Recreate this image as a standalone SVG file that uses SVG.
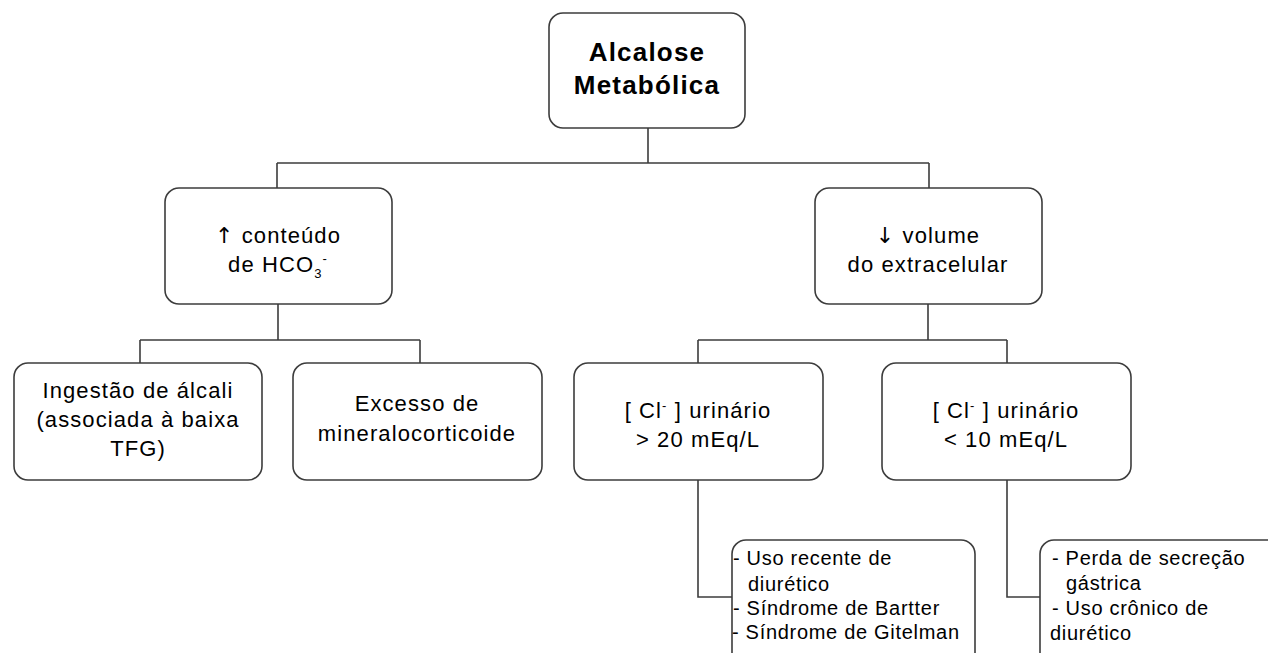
<svg xmlns="http://www.w3.org/2000/svg" width="1268" height="653" viewBox="0 0 1268 653">
<style>
.box{fill:#fff;stroke:#3c3c3c;stroke-width:1.6}
.con{fill:none;stroke:#3c3c3c;stroke-width:1.6}
.t{font-family:"Liberation Sans",Arial,"DejaVu Sans",sans-serif;font-size:22px;fill:#000;text-anchor:middle;letter-spacing:1.1px}
.s{font-family:"Liberation Sans",Arial,"DejaVu Sans",sans-serif;font-size:20px;fill:#000;letter-spacing:0.7px}
.title{font-family:"Liberation Sans",Arial,sans-serif;font-size:26px;font-weight:bold;fill:#000;text-anchor:middle;letter-spacing:1.2px}
.ar{font-family:"DejaVu Sans",sans-serif;fill:#000}
</style>
<rect width="1268" height="653" fill="#fff"/>
<g id="connectors">
<path class="con" d="M648,128 V163 M277,163 H929 M277,163 V188 M929,163 V188"/>
<path class="con" d="M278,304 V340 M140,340 H420 M140,340 V363 M420,340 V363"/>
<path class="con" d="M928,304 V340 M698,340 H1007 M698,340 V363 M1007,340 V363"/>
<path class="con" d="M698,480 V597 H732"/>
<path class="con" d="M1007,480 V597 H1040"/>
</g>
<g id="n1">
<rect class="box" x="549" y="13" width="196" height="115" rx="14"/>
<text class="title" x="647" y="61">Alcalose</text>
<text class="title" x="647" y="94">Metabólica</text>
</g>
<g id="n2">
<rect class="box" x="165" y="188" width="227" height="116" rx="14"/>
<text class="t" x="278" y="243"><tspan class="ar">↑</tspan> conteúdo</text>
<text class="t" x="278" y="272">de HCO<tspan font-size="13" dy="6">3</tspan><tspan font-size="13" dy="-15">-</tspan></text>
</g>
<g id="n3">
<rect class="box" x="815" y="188" width="227" height="116" rx="14"/>
<text class="t" x="928" y="243"><tspan class="ar">↓</tspan> volume</text>
<text class="t" x="928" y="272">do extracelular</text>
</g>
<g id="n4">
<rect class="box" x="14" y="363" width="248" height="117" rx="14"/>
<text class="t" x="138" y="398">Ingestão de álcali</text>
<text class="t" x="138" y="427">(associada à baixa</text>
<text class="t" x="138" y="456">TFG)</text>
</g>
<g id="n5">
<rect class="box" x="293" y="363" width="249" height="117" rx="14"/>
<text class="t" x="417" y="411">Excesso de</text>
<text class="t" x="417" y="441">mineralocorticoide</text>
</g>
<g id="n6">
<rect class="box" x="574" y="363" width="249" height="117" rx="14"/>
<text class="t" x="698" y="418">[ Cl<tspan font-size="13" dy="-8">-</tspan><tspan dy="8"> ] urinário</tspan></text>
<text class="t" x="698" y="447">&gt; 20 mEq/L</text>
</g>
<g id="n7">
<rect class="box" x="882" y="363" width="249" height="117" rx="14"/>
<text class="t" x="1006" y="418">[ Cl<tspan font-size="13" dy="-8">-</tspan><tspan dy="8"> ] urinário</tspan></text>
<text class="t" x="1006" y="447">&lt; 10 mEq/L</text>
</g>
<g id="n8">
<rect class="box" x="732" y="540" width="243" height="130" rx="14"/>
<text class="s" x="733" y="565">- Uso recente de</text>
<text class="s" x="748" y="591">diurético</text>
<text class="s" x="733" y="615">- Síndrome de Bartter</text>
<text class="s" x="732" y="639">- Síndrome de Gitelman</text>
</g>
<g id="n9">
<rect class="box" x="1040" y="540" width="260" height="130" rx="14"/>
<text class="s" x="1052" y="565">- Perda de secreção</text>
<text class="s" x="1066" y="590">gástrica</text>
<text class="s" x="1052" y="615">- Uso crônico de</text>
<text class="s" x="1050" y="640">diurético</text>
</g>
</svg>
